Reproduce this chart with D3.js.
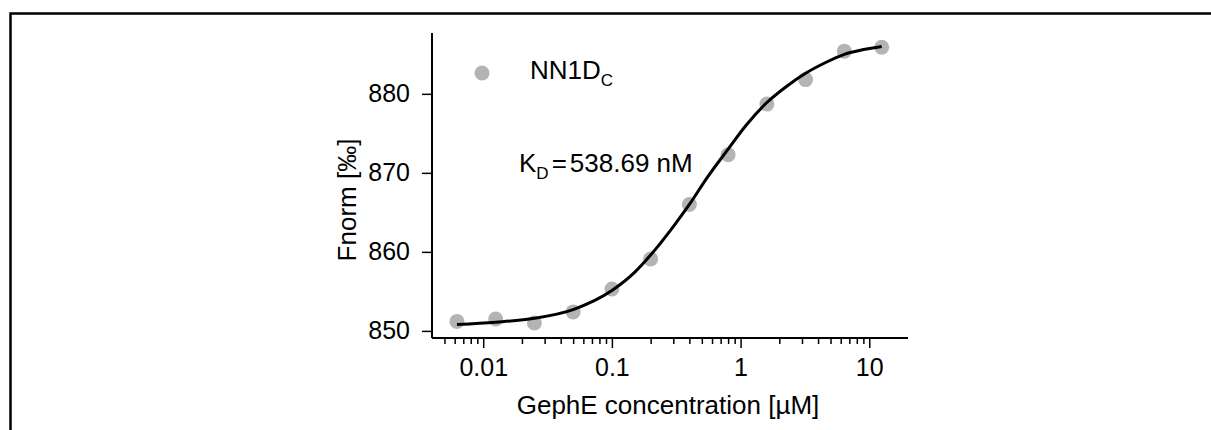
<!DOCTYPE html>
<html>
<head>
<meta charset="utf-8">
<script src="https://cdn.jsdelivr.net/npm/d3@7"></script>
<style>
  body { margin: 0; background: #fff; }
  svg { display: block; font-family: "Liberation Sans", Arial, sans-serif; }
</style>
</head>
<body>
<div id="chart"></div>
<script>
// measured points (GephE concentration in µM, Fnorm in ‰)
var conc = [0.00625, 0.0125, 0.025, 0.05, 0.1, 0.2, 0.4, 0.8, 1.6, 3.2, 6.4, 12.5]
var fnorm = [851.2, 851.5, 851.0, 852.4, 855.3, 859.1, 866.0, 872.3, 878.7, 881.8, 885.4, 885.9]

// fit curve
var fitConc = [0.00625, 0.0125, 0.025, 0.05, 0.1, 0.15, 0.2, 0.3, 0.4, 0.55, 0.8, 1.1, 1.6, 2.3, 3.2, 4.5, 6.4, 9, 12.5]
var fitVal = [850.8, 851.1, 851.6, 852.7, 855.1, 857.4, 859.6, 863.2, 866.0, 869.4, 873.0, 876.0, 878.9, 881.0, 882.6, 883.9, 885.0, 885.6, 886.0]

var xTicks = [0.01, 0.1, 1, 10]
var xTickLabels = ["0.01", "0.1", "1", "10"]
var yTicks = [850, 860, 870, 880]

var width = 1211, height = 430
var tickFs = 25, fs = 26

var svg = d3.select("#chart").append("svg")
    .attr("width", width)
    .attr("height", height)

// frame (only top and left edges are visible)
svg.append("path")
    .attr("d", "M10.5," + height + "V13.5H" + width)
    .attr("fill", "none")
    .attr("stroke", "#000")
    .attr("stroke-width", 2.5)

var x = d3.scaleLog().domain([0.004, 20]).range([432, 908])
var y = d3.scaleLinear().domain([849.1, 887.7]).range([338, 33])

var minor = []
xTicks.concat([0.001]).forEach(function (d) {
    for (var k = 2; k <= 9; k++) {
        var v = d * k
        if (v > x.domain()[0] && v < x.domain()[1]) minor.push(v)
    }
})

var xAxis = svg.append("g")
    .attr("transform", "translate(0,338)")
    .call(d3.axisBottom(x).tickValues(xTicks)
        .tickFormat(function (d, i) { return xTickLabels[i] })
        .tickSize(10).tickPadding(10))
svg.append("g")
    .attr("transform", "translate(0,338)")
    .call(d3.axisBottom(x).tickValues(minor).tickFormat("").tickSize(6))
    .select(".domain").remove()

var yAxis = svg.append("g")
    .attr("transform", "translate(432,0)")
    .call(d3.axisLeft(y).tickValues(yTicks).tickSize(10).tickPadding(12))

svg.selectAll(".domain").attr("stroke-width", 2)
svg.selectAll(".tick line").attr("stroke-width", 1.5)
svg.selectAll(".tick text").attr("font-size", tickFs).attr("fill", "#000")
    .attr("font-family", "Liberation Sans, Arial, sans-serif")
xAxis.selectAll(".domain").attr("d", "M432,0H908")
yAxis.selectAll(".domain").attr("d", "M0,338V33")

// axis titles
svg.append("text")
    .attr("x", 668).attr("y", 414)
    .attr("text-anchor", "middle")
    .attr("font-size", fs)
    .text("GephE concentration [µM]")

svg.append("text")
    .attr("transform", "translate(356,200) rotate(-90)")
    .attr("text-anchor", "middle")
    .attr("font-size", fs)
    .text("Fnorm [‰]")

// points
svg.append("g")
    .selectAll("circle")
    .data(conc)
    .enter()
    .append("circle")
    .attr("cx", function (d) { return x(d) })
    .attr("cy", function (d, i) { return y(fnorm[i]) })
    .attr("r", 7.5)
    .style("fill", "#b4b4b4")

// fit line
var line = d3.line()
    .x(function (d) { return x(d) })
    .y(function (d, i) { return y(fitVal[i]) })
    .curve(d3.curveMonotoneX)

svg.append("path")
    .attr("d", line(fitConc))
    .attr("fill", "none")
    .attr("stroke", "#000")
    .attr("stroke-width", 3)

// legend
svg.append("circle")
    .attr("cx", 482).attr("cy", 73).attr("r", 7.5)
    .style("fill", "#b4b4b4")
var leg = svg.append("text")
    .attr("x", 530).attr("y", 79)
    .attr("font-size", fs)
leg.append("tspan").text("NN1D")
leg.append("tspan").attr("dy", 7).attr("font-size", 17).text("C")

// KD annotation
var kd = svg.append("text")
    .attr("x", 519).attr("y", 172)
    .attr("font-size", fs)
kd.append("tspan").text("K")
kd.append("tspan").attr("dy", 7).attr("font-size", 17).text("D")
kd.append("tspan").attr("dy", -7).attr("dx", 3).text("=")
kd.append("tspan").attr("dx", 3).text("538.69 nM")
</script>
</body>
</html>
